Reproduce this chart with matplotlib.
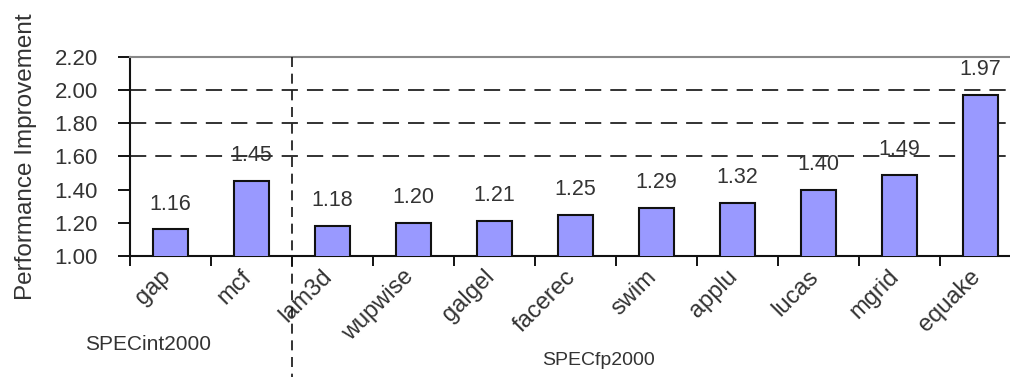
import matplotlib
matplotlib.use("Agg")
import matplotlib.pyplot as plt
import matplotlib.transforms as mtransforms
import numpy as np

plt.rcParams["font.family"] = ["Liberation Sans", "DejaVu Sans"]

benchmarks = ["gap", "mcf", "lam3d", "wupwise", "galgel", "facerec",
              "swim", "applu", "lucas", "mgrid", "equake"]
improvement = [1.16, 1.45, 1.18, 1.20, 1.21, 1.25, 1.29, 1.32, 1.40, 1.49, 1.97]
yticks = [1.00, 1.20, 1.40, 1.60, 1.80, 2.00, 2.20]
gridlines = [1.60, 1.80, 2.00]

fig = plt.figure(figsize=(10.10, 3.77), dpi=100)
ax = fig.add_axes([0.1287, 0.321, 0.882, 0.528])

x = np.arange(len(benchmarks))
ax.bar(x, improvement, width=0.43, bottom=0, color="#9999ff",
       edgecolor="#111111", linewidth=1.5, zorder=3)

for yv in gridlines:
    ax.axhline(yv, color="#222222", lw=1.3, dashes=(9, 5), zorder=1)

for xi, v in zip(x, improvement):
    ax.text(xi, v + 0.09, f"{v:.2f}", ha="center", va="bottom",
            fontsize=15.5, color="#333333", zorder=4)

ax.set_xlim(-0.5, len(benchmarks) - 0.5)
ax.set_ylim(1.0, 2.2)
ax.set_yticks(yticks)
ax.set_yticklabels([f"{t:.2f}" for t in yticks], fontsize=16, color="#333333")

# category ticks sit on the boundaries between bars;
# names hang slightly left of each bar centre
ax.set_xticks(np.arange(len(benchmarks) + 1) - 0.5)
ax.set_xticklabels([])
ax.set_xticks(x - 0.14, minor=True)
ax.set_xticklabels(benchmarks, minor=True, rotation=45, ha="right",
                   rotation_mode="anchor", fontsize=17, color="#333333")
ax.tick_params(axis="x", which="major", length=7, width=1.3, direction="out")
ax.tick_params(axis="x", which="minor", length=0, pad=7)
ax.tick_params(axis="y", length=9, width=1.3, direction="out", pad=14)

ax.spines["right"].set_visible(False)
ax.spines["top"].set_color("#888888")
ax.spines["top"].set_linewidth(1.5)
for s in ("left", "bottom"):
    ax.spines[s].set_linewidth(1.5)
    ax.spines[s].set_color("#111111")

ax.set_ylabel("Performance Improvement", fontsize=17.5, color="#333333", labelpad=13)

# separator between the integer and floating point suites
trans = mtransforms.blended_transform_factory(ax.transData, ax.transAxes)
ax.plot([1.5, 1.5], [1.0, -0.65], transform=trans, color="#111111",
        lw=1.2, dashes=(6, 4), clip_on=False, zorder=5)

fig.text(0.084, 0.085, "SPECint2000", fontsize=15, color="#333333", va="center")
fig.text(0.593, 0.045, "SPECfp2000", fontsize=14, color="#333333",
         va="center", ha="center")

fig.savefig("out.png", dpi=100)
